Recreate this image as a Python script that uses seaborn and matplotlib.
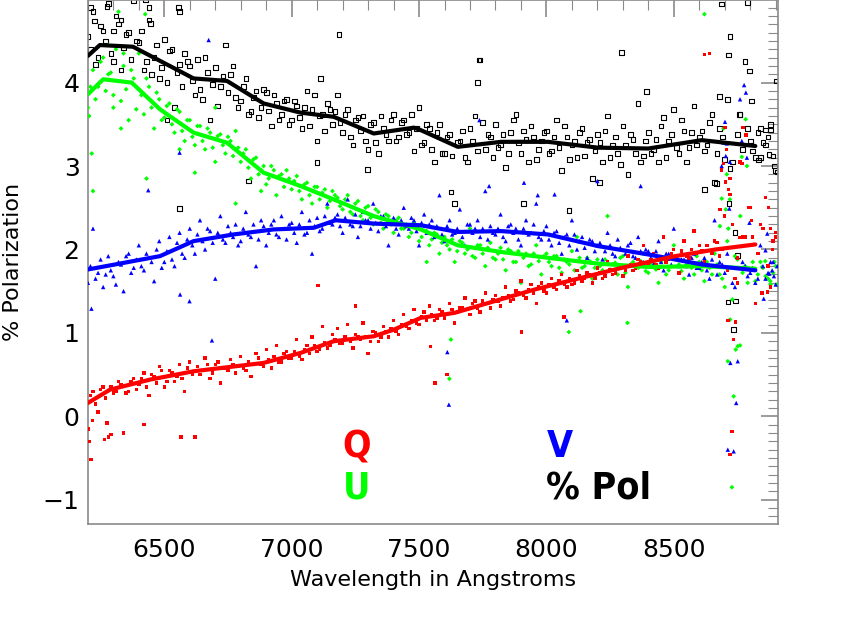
import matplotlib
matplotlib.use("Agg")
import matplotlib.pyplot as plt
import seaborn as sns
from matplotlib.ticker import MultipleLocator

# wavelength grid of the binned spectrum (Angstroms)
wave = [6200, 6220, 6240, 6260, 6280, 6300, 6320, 6340, 6360, 6380,
        6400, 6420, 6440, 6460, 6480, 6500, 6520, 6540, 6560, 6580,
        6600, 6620, 6640, 6660, 6680, 6700, 6720, 6740, 6760, 6780,
        6800, 6820, 6840, 6860, 6880, 6900, 6920, 6940, 6960, 6980,
        7000, 7020, 7040, 7060, 7080, 7100, 7120, 7140, 7160, 7180,
        7200, 7220, 7240, 7260, 7280, 7300, 7320, 7340, 7360, 7380,
        7400, 7420, 7440, 7460, 7480, 7500, 7520, 7540, 7560, 7580,
        7600, 7620, 7640, 7660, 7680, 7700, 7720, 7740, 7760, 7780,
        7800, 7820, 7840, 7860, 7880, 7900, 7920, 7940, 7960, 7980,
        8000, 8020, 8040, 8060, 8080, 8100, 8120, 8140, 8160, 8180,
        8200, 8220, 8240, 8260, 8280, 8300, 8320, 8340, 8360, 8380,
        8400, 8420, 8440, 8460, 8480, 8500, 8520, 8540, 8560, 8580,
        8600, 8620, 8640, 8660, 8680, 8700, 8720, 8740, 8760, 8780,
        8800, 8820, 8840, 8860, 8880, 8900]

# second (interleaved) set of bins
wave2 = [6210, 6230, 6250, 6270, 6290, 6310, 6330, 6350, 6370, 6390,
         6410, 6430, 6450, 6470, 6490, 6510, 6530, 6550, 6570, 6590,
         6610, 6630, 6650, 6670, 6690, 6710, 6730, 6750, 6770, 6790,
         6810, 6830, 6850, 6870, 6890, 6910, 6930, 6950, 6970, 6990,
         7010, 7030, 7050, 7070, 7090, 7110, 7130, 7150, 7170, 7190,
         7210, 7230, 7250, 7270, 7290, 7310, 7330, 7350, 7370, 7390,
         7410, 7430, 7450, 7470, 7490, 7510, 7530, 7550, 7570, 7590,
         7610, 7630, 7650, 7670, 7690, 7710, 7730, 7750, 7770, 7790,
         7810, 7830, 7850, 7870, 7890, 7910, 7930, 7950, 7970, 7990,
         8010, 8030, 8050, 8070, 8090, 8110, 8130, 8150, 8170, 8190,
         8210, 8230, 8250, 8270, 8290, 8310, 8330, 8350, 8370, 8390,
         8410, 8430, 8450, 8470, 8490, 8510, 8530, 8550, 8570, 8590,
         8610, 8630, 8650, 8670, 8690, 8710, 8730, 8750, 8770, 8790,
         8810, 8830, 8850, 8870, 8890]

pol = [4.55, 4.85, 4.30, 4.62, 4.95, 4.25, 4.70, 4.42, 4.60, 4.98,
       4.48, 4.15, 4.75, 4.30, 4.05, 4.52, 4.38, 3.70, 4.22, 4.35,
       4.20, 3.85, 3.92, 4.30, 3.55, 4.18, 3.95, 4.45, 4.10, 3.82,
       3.78, 4.05, 3.65, 3.90, 3.70, 3.88, 3.48, 3.75, 3.62, 3.80,
       3.55, 3.72, 3.45, 3.90, 3.68, 3.30, 3.62, 3.75, 3.50, 3.85,
       3.40, 3.68, 3.25, 3.58, 3.60, 3.20, 3.52, 3.15, 3.45, 3.30,
       3.62, 3.35, 3.55, 3.40, 3.18, 3.70, 3.28, 3.45, 3.05, 3.50,
       3.15, 3.38, 2.55, 3.30, 3.10, 3.45, 3.60, 4.27, 3.20, 3.35,
       3.50, 3.25, 2.98, 3.40, 3.62, 3.15, 3.32, 3.48, 3.08, 3.30,
       3.42, 3.18, 3.55, 2.95, 3.35, 3.25, 3.10, 3.45, 3.28, 2.85,
       3.38, 3.05, 3.60, 3.25, 3.15, 3.48, 2.90, 3.32, 3.75, 3.12,
       3.40, 3.20, 3.05, 3.58, 3.30, 3.68, 3.15, 3.42, 3.22, 3.72,
       3.35, 3.18, 3.52, 2.80, 3.45, 3.08, 4.55, 2.20, 3.62, 4.25,
       3.30, 3.10, 3.45, 3.25, 3.50, 2.95]
pol2 = [4.40, 4.22, 4.68, 4.50, 4.35, 4.80, 4.15, 4.58, 4.28, 4.50,
        4.62, 4.25, 4.10, 4.45, 4.18, 4.00, 4.40, 4.12, 3.95, 4.25,
        4.02, 4.28, 3.80, 4.12, 3.98, 3.72, 4.08, 3.88, 4.20, 3.70,
        3.95, 3.62, 3.82, 3.58, 3.92, 3.66, 3.85, 3.55, 3.78, 3.50,
        3.78, 3.58, 3.70, 3.48, 3.85, 3.60, 3.42, 3.68, 3.65, 3.52,
        3.62, 3.35, 3.55, 3.42, 3.30, 3.50, 3.28, 3.60, 3.38, 3.55,
        3.30, 3.52, 3.38, 3.62, 3.45, 3.25, 3.50, 3.20, 3.40, 3.15,
        3.35, 3.12, 3.28, 3.42, 3.05, 3.30, 3.18, 3.52, 3.38, 3.10,
        3.22, 3.38, 3.15, 3.55, 3.28, 3.42, 3.05, 3.35, 3.20, 3.40,
        3.15, 3.35, 3.22, 3.48, 3.08, 3.30, 3.40, 3.12, 3.32, 3.18,
        3.28, 3.42, 3.10, 3.35, 3.02, 3.25, 3.38, 3.15, 3.05, 3.30,
        3.15, 3.32, 3.48, 3.10, 3.38, 3.22, 3.55, 3.05, 3.40, 3.25,
        3.42, 3.25, 3.62, 3.15, 3.35, 3.80, 3.05, 3.38, 3.20, 3.45,
        3.18, 3.40, 3.28, 3.35, 3.12]

u = [3.70, 4.15, 3.95, 4.30, 4.10, 3.85, 4.85, 4.20, 3.55, 4.05,
     4.35, 3.62, 3.95, 3.45, 3.80, 3.58, 3.75, 3.40, 3.65, 3.30,
     3.55, 3.25, 3.48, 3.20, 3.40, 3.05, 3.38, 3.15, 3.30, 3.42,
     3.05, 3.20, 2.85, 3.10, 2.95, 2.78, 3.00, 2.65, 2.90, 2.95,
     2.72, 2.88, 2.60, 2.80, 2.55, 2.75, 2.68, 2.50, 2.70, 2.62,
     2.48, 2.65, 2.42, 2.58, 2.35, 2.52, 2.30, 2.45, 2.25, 2.40,
     2.20, 2.38, 2.25, 2.15, 2.32, 2.10, 2.28, 2.05, 2.20, 1.95,
     2.15, 2.00, 1.85, 2.10, 1.95, 2.25, 1.90, 2.05, 1.80, 2.08,
     1.88, 2.02, 1.75, 1.98, 1.85, 1.60, 1.95, 1.82, 2.05, 1.70,
     1.95, 1.80, 1.92, 1.72, 1.85, 1.98, 2.15, 1.78, 1.90, 1.65,
     1.88, 1.75, 2.40, 1.82, 1.70, 1.92, 1.55, 1.85, 1.78, 1.95,
     1.72, 1.85, 1.60, 1.90, 1.75, 2.05, 1.82, 1.65, 1.88, 1.70,
     1.85, 1.62, 1.78, 1.95, 1.70, 1.55, 2.60, 1.92, 0.85, 1.80,
     1.75, 1.62, 1.85, 1.68, 1.58, 1.80]
u2 = [3.95, 3.80, 4.25, 3.90, 4.12, 4.40, 3.78, 3.92, 4.15, 3.68,
      3.85, 4.05, 3.70, 3.88, 3.55, 3.72, 3.50, 3.68, 3.42, 3.55,
      3.35, 3.48, 3.30, 3.45, 3.22, 3.36, 3.25, 3.35, 3.12, 3.22,
      3.15, 2.98, 3.08, 2.90, 3.00, 2.85, 2.95, 2.88, 2.75, 2.85,
      2.82, 2.70, 2.78, 2.65, 2.75, 2.60, 2.72, 2.58, 2.65, 2.52,
      2.60, 2.45, 2.55, 2.40, 2.50, 2.38, 2.48, 2.32, 2.42, 2.30,
      2.35, 2.25, 2.30, 2.20, 2.28, 2.15, 2.22, 2.12, 2.18, 2.08,
      2.05, 2.12, 1.98, 2.08, 2.00, 1.92, 2.05, 1.95, 2.02, 1.90,
      1.95, 1.88, 2.00, 1.85, 1.98, 1.90, 1.80, 1.95, 1.86, 1.92,
      1.85, 1.92, 1.78, 1.88, 1.82, 1.75, 1.90, 1.80, 1.86, 1.78,
      1.80, 1.88, 1.76, 1.84, 1.90, 1.72, 1.82, 1.78, 1.86, 1.74,
      1.82, 1.76, 1.85, 1.70, 1.80, 1.88, 1.74, 1.82, 1.78, 1.92,
      1.75, 1.85, 1.70, 1.82, 1.65, 2.10, 1.40, 1.88, 1.72, 1.60,
      1.85, 1.70, 1.78, 1.65, 1.72]

v = [1.60, 2.25, 1.72, 1.55, 1.92, 1.68, 1.85, 1.50, 1.95, 1.78,
     2.05, 1.75, 1.90, 1.62, 2.10, 1.85, 2.15, 1.80, 2.20, 1.90,
     2.25, 1.95, 2.35, 2.00, 2.22, 1.65, 2.40, 2.08, 2.20, 2.30,
     2.10, 2.45, 2.15, 1.80, 2.35, 2.05, 2.30, 2.18, 2.40, 2.12,
     2.32, 2.08, 2.45, 2.20, 1.95, 2.38, 2.25, 2.55, 2.30, 2.42,
     2.20, 2.60, 2.28, 2.15, 2.45, 2.35, 2.55, 2.22, 2.40, 2.05,
     2.38, 2.18, 2.50, 2.25, 2.35, 2.05, 2.42, 2.30, 2.15, 2.65,
     2.10, 2.35, 2.20, 2.48, 2.05, 2.30, 2.25, 2.15, 2.70, 2.28,
     2.18, 2.42, 2.10, 2.30, 2.25, 2.05, 2.35, 2.20, 2.55, 2.12,
     2.28, 2.05, 2.22, 1.95, 2.18, 2.35, 2.00, 2.15, 1.90, 2.10,
     2.05, 1.88, 2.20, 1.95, 2.12, 1.80, 2.05, 1.92, 2.15, 1.85,
     1.98, 1.82, 2.10, 1.75, 1.95, 2.25, 1.80, 1.88, 1.70, 1.95,
     1.78, 1.90, 1.65, 2.35, 1.85, 1.72, 3.05, 1.55, 3.80, 1.80,
     1.72, 1.60, 2.05, 1.65, 1.85, 1.58]
v2 = [1.80, 1.65, 1.88, 1.70, 1.75, 1.58, 1.82, 1.92, 1.72, 1.88,
      1.80, 1.95, 1.85, 2.00, 1.78, 1.98, 1.88, 2.08, 1.95, 2.12,
      2.05, 2.18, 2.10, 2.25, 2.08, 2.20, 2.12, 2.28, 2.15, 2.05,
      2.25, 2.18, 2.30, 2.12, 2.28, 2.20, 2.35, 2.15, 2.25, 2.30,
      2.20, 2.30, 2.18, 2.35, 2.28, 2.22, 2.40, 2.32, 2.38, 2.28,
      2.38, 2.30, 2.42, 2.28, 2.35, 2.25, 2.32, 2.40, 2.28, 2.35,
      2.25, 2.35, 2.28, 2.38, 2.22, 2.32, 2.20, 2.35, 2.28, 2.18,
      2.28, 2.18, 2.25, 2.15, 2.30, 2.20, 2.35, 2.25, 2.12, 2.20,
      2.25, 2.15, 2.28, 2.20, 2.12, 2.25, 2.18, 2.30, 2.15, 2.22,
      2.12, 2.20, 2.08, 2.15, 2.05, 2.18, 2.10, 2.02, 2.12, 1.98,
      2.08, 1.98, 2.05, 1.92, 2.02, 1.95, 2.08, 1.90, 1.98, 2.00,
      1.90, 1.98, 1.85, 1.95, 1.82, 1.92, 1.88, 1.80, 1.90, 1.78,
      1.85, 1.75, 1.88, 1.70, 1.82, 1.95, 1.60, 1.78, 1.85, 1.68,
      1.78, 1.65, 1.80, 1.72, 1.85]

q = [-0.15, 0.30, 0.05, 0.35, -0.25, 0.28, 0.42, -0.20, 0.30, 0.45,
     0.38, 0.52, 0.25, 0.48, 0.60, 0.35, 0.55, 0.42, 0.62, 0.30,
     0.65, -0.25, 0.50, 0.70, 0.45, 0.62, 0.40, 0.58, 0.68, 0.52,
     0.72, 0.55, 0.48, 0.75, 0.62, 0.80, 0.58, 0.85, 0.65, 0.78,
     0.70, 0.92, 0.68, 0.85, 0.95, 0.78, 1.08, 0.82, 0.98, 1.05,
     0.88, 1.10, 0.82, 0.95, 1.12, 0.75, 1.02, 0.90, 1.08, 0.95,
     1.15, 0.98, 1.22, 1.05, 1.28, 1.10, 1.25, 1.32, 1.15, 1.28,
     1.18, 1.35, 1.12, 1.30, 1.42, 1.22, 1.38, 1.25, 1.48, 1.30,
     1.45, 1.32, 1.55, 1.38, 1.50, 1.62, 1.42, 1.58, 1.35, 1.60,
     1.48, 1.65, 1.52, 1.70, 1.55, 1.58, 1.75, 1.62, 1.72, 1.60,
     1.78, 1.65, 1.85, 1.70, 1.82, 1.68, 1.92, 1.75, 1.88, 2.05,
     1.80, 1.95, 1.78, 2.15, 1.88, 2.00, 1.72, 2.10, 1.90, 2.22,
     2.05, 1.85, 4.35, 2.10, 1.92, 2.40, 2.85, 1.65, 3.05, 2.15,
     2.50, 1.35, 2.30, 2.62, 1.55, 2.20]
q2 = [0.25, 0.15, 0.32, 0.22, 0.35, 0.30, 0.38, 0.28, 0.42, 0.32,
      0.45, 0.35, 0.50, 0.40, 0.55, 0.42, 0.52, 0.48, 0.45, 0.58,
      0.50, 0.60, 0.55, 0.62, 0.52, 0.65, 0.58, 0.55, 0.62, 0.60,
      0.58, 0.66, 0.62, 0.70, 0.60, 0.68, 0.72, 0.65, 0.75, 0.70,
      0.78, 0.72, 0.80, 0.75, 0.85, 0.80, 0.88, 0.85, 0.92, 0.88,
      0.95, 0.90, 0.98, 0.92, 0.96, 0.90, 1.00, 0.95, 1.02, 1.05,
      1.02, 1.10, 1.08, 1.15, 1.12, 1.20, 1.15, 1.22, 1.18, 1.25,
      1.22, 1.28, 1.25, 1.30, 1.28, 1.35, 1.30, 1.38, 1.35, 1.40,
      1.38, 1.42, 1.45, 1.40, 1.48, 1.45, 1.52, 1.48, 1.55, 1.50,
      1.58, 1.55, 1.62, 1.58, 1.65, 1.60, 1.68, 1.65, 1.70, 1.66,
      1.72, 1.68, 1.76, 1.72, 1.80, 1.75, 1.82, 1.78, 1.85, 1.80,
      1.88, 1.82, 1.90, 1.85, 1.95, 1.88, 1.98, 1.92, 2.00, 1.95,
      1.98, 2.05, 1.95, 2.08, 2.00, 1.75, 2.30, 1.90, 2.15, 2.05,
      2.15, 1.95, 2.25, 1.80, 2.10]

# scattered points off the regular grid (noisy ends and the telluric band)
pol_x = [6210, 6225, 6275, 6300, 6330, 6427, 6440, 6445, 6555, 6560, 6510, 6831, 6560,
         7100, 7113, 7185, 7297, 7625, 7730, 7736, 7911, 8088, 8209, 8294, 8393, 8620,
         8668, 8680, 8688, 8712, 8714, 8717, 8720, 8735, 8743, 8751, 8758, 8790, 8797,
         8805, 8833, 8840, 8859, 8874, 8880, 8895, 8902, 8908]
pol_y = [4.90, 4.74, 4.91, 4.62, 4.75, 4.99, 4.90, 4.71, 4.90, 4.85, 3.55, 2.82, 2.49,
         3.04, 4.05, 4.58, 2.96, 2.69, 4.00, 4.27, 2.55, 2.47, 2.80, 4.36, 3.89, 2.72,
         2.79, 3.83, 4.94, 1.37, 4.33, 2.55, 2.97, 1.04, 1.38, 1.93, 3.62, 4.96, 4.14,
         3.78, 3.07, 3.10, 3.43, 3.14, 3.43, 3.00, 4.02, 2.93]

u_x = [6205, 6215, 6220, 6280, 6300, 6330, 6340, 6425, 6430, 6560, 6620, 6700, 6780,
       6880, 7530, 7619, 7625, 8088, 8134, 8318, 8620, 8681, 8688, 8695, 8704, 8708,
       8712, 8714, 8721, 8728, 8735, 8743, 8751, 8761, 8767, 8782, 8787, 8846, 8859,
       8879, 8895, 8905]
u_y = [3.60, 3.15, 2.70, 4.45, 3.70, 3.45, 4.35, 4.82, 2.85, 3.20, 2.92, 3.70, 2.55,
       2.70, 1.85, 0.45, 0.92, 1.01, 1.26, 1.12, 4.82, 2.28, 2.61, 3.45, 2.48, 2.90,
       0.66, 2.25, 1.16, -0.85, 0.24, 0.80, 0.84, 2.40, 3.11, 3.56, 3.00, 1.79, 1.86,
       1.62, 1.85, 1.58]

v_x = [6214, 6437, 6560, 6562, 6599, 6674, 6687, 7611, 7617, 7737, 7775, 7912, 7966,
       8032, 8080, 8200, 8370, 8688, 8695, 8701, 8704, 8708, 8712, 8718, 8722, 8735,
       8745, 8751, 8767, 8776, 8783, 8787, 8797, 8853, 8860, 8867, 8875, 8886, 8893,
       8906]
v_y = [1.29, 2.71, 3.16, 1.46, 1.38, 4.51, 0.91, 0.77, 0.14, 3.55, 2.76, 2.80, 2.65,
       2.66, 1.15, 2.82, 2.76, 3.00, 3.28, 3.53, 3.12, 3.27, -0.40, 2.49, 0.64, -0.42,
       0.16, 0.66, 3.30, 3.97, 3.88, 3.10, 2.32, 1.41, 1.99, 2.19, 1.71, 1.75, 1.68,
       1.80]

q_x = [6205, 6212, 6218, 6265, 6275, 6290, 6420, 6565, 7103, 7251, 7546, 7562, 7609,
       7901, 8069, 8620, 8681, 8688, 8695, 8701, 8704, 8708, 8712, 8714, 8720, 8721,
       8728, 8735, 8743, 8751, 8758, 8767, 8772, 8783, 8793, 8805, 8846, 8867, 8872,
       8879, 8887, 8900]
q_y = [-0.30, -0.52, -0.05, -0.28, -0.08, -0.22, -0.10, -0.25, 1.57, 1.32, 0.84, 0.40,
       0.50, 1.01, 1.19, 4.34, 2.48, 2.95, 3.03, 3.46, 2.81, 3.20, 1.15, 2.72, -0.46,
       2.66, -0.18, 0.92, 1.13, 1.60, 2.14, 3.03, 3.46, 3.37, 2.50, 2.35, 1.48, 1.49,
       2.50, 2.25, 2.00, 2.15]

# smoothed curves
pol_fit_x = [6200, 6247, 6377, 6615, 6746, 6890, 7035, 7165, 7322, 7480, 7507, 7652,
             7822, 8006, 8203, 8400, 8610, 8820]
pol_fit = [4.32, 4.45, 4.43, 4.05, 4.02, 3.75, 3.64, 3.59, 3.39, 3.46, 3.43, 3.23,
           3.29, 3.29, 3.22, 3.21, 3.31, 3.24]

u_fit_x = [6200, 6260, 6372, 6483, 6615, 6746, 6890, 7035, 7165, 7322, 7507, 7652,
           7822, 8006, 8203, 8400, 8610, 8820]
u_fit = [3.86, 4.04, 4.00, 3.68, 3.40, 3.28, 2.92, 2.76, 2.60, 2.40, 2.24, 2.05,
         1.97, 1.90, 1.83, 1.79, 1.80, 1.77]

v_fit_x = [6200, 6377, 6483, 6615, 6772, 6929, 7087, 7172, 7323, 7507, 7652, 7822,
           8006, 8203, 8400, 8610, 8820]
v_fit = [1.76, 1.86, 1.92, 2.10, 2.18, 2.24, 2.26, 2.35, 2.31, 2.29, 2.21, 2.22,
         2.18, 2.04, 1.94, 1.82, 1.75]

q_fit_x = [6200, 6287, 6444, 6615, 6890, 7035, 7165, 7323, 7402, 7507, 7639, 7796,
           7954, 8111, 8296, 8506, 8664, 8820]
q_fit = [0.16, 0.32, 0.44, 0.54, 0.64, 0.76, 0.90, 0.96, 1.04, 1.18, 1.24, 1.38,
         1.52, 1.64, 1.78, 1.92, 2.00, 2.06]

sns.set_style("white")
plt.rcParams['font.family'] = ['DejaVu Sans']

fig = plt.figure(figsize=(8.45, 6.23), dpi=100)
ax = fig.add_axes([0.104, 0.159, 0.817, 0.841])

grey = '#8a8a8a'

# %Pol: open black squares
sns.scatterplot(x=wave + wave2 + pol_x, y=pol + pol2 + pol_y, marker='s', s=11,
                facecolor='none', edgecolor='black', linewidth=0.8, ax=ax, zorder=2)
sns.scatterplot(x=wave + wave2 + u_x, y=u + u2 + u_y, marker='D', s=6, color='#00ff00',
                edgecolor='none', ax=ax, zorder=3)
sns.scatterplot(x=wave + wave2 + v_x, y=v + v2 + v_y, marker='^', s=10, color='#0000ff',
                edgecolor='none', ax=ax, zorder=3)
sns.scatterplot(x=wave + wave2 + q_x, y=q + q2 + q_y, marker='s', s=6, color='#ff0000',
                edgecolor='none', ax=ax, zorder=3)

sns.lineplot(x=pol_fit_x, y=pol_fit, color='black', lw=3, ax=ax, zorder=4)
sns.lineplot(x=u_fit_x, y=u_fit, color='#00ff00', lw=3, ax=ax, zorder=4)
sns.lineplot(x=v_fit_x, y=v_fit, color='#0000ff', lw=3, ax=ax, zorder=4)
sns.lineplot(x=q_fit_x, y=q_fit, color='#ff0000', lw=3, ax=ax, zorder=4)

# labels standing in for a legend
kw = dict(fontsize=27, fontweight='bold', fontstretch='condensed', va='center')
ax.text(7255, -0.37, 'Q', color='#ff0000', ha='center', **kw)
ax.text(7255, -0.86, 'U', color='#00ff00', ha='center', **kw)
ax.text(8000, -0.37, 'V', color='#0000ff', ha='left', **kw)
ax.text(8000, -0.86, '% Pol', color='black', ha='left', **kw)

ax.set_xlim(6200, 8910)
ax.set_ylim(-1.29, 4.99)
ax.xaxis.set_major_locator(MultipleLocator(500))
ax.xaxis.set_minor_locator(MultipleLocator(100))
ax.yaxis.set_major_locator(MultipleLocator(1))
ax.yaxis.set_minor_locator(MultipleLocator(0.1))
ax.tick_params(which='both', direction='in', top=True, right=True, color=grey,
               labelcolor='black')
ax.tick_params(which='major', length=12, width=1.2, labelsize=18)
ax.tick_params(axis='x', which='major', pad=10)
ax.tick_params(axis='y', which='major', pad=6)
ax.tick_params(which='minor', length=7, width=0.8)
for sp in ax.spines.values():
    sp.set_color(grey)
    sp.set_linewidth(1.2)

ax.set_xlabel('Wavelength in Angstroms', fontsize=16, labelpad=6, color='black')
ax.set_ylabel('% Polarization', fontsize=16, labelpad=14, color='black')

plt.savefig('out.png', dpi=100)
